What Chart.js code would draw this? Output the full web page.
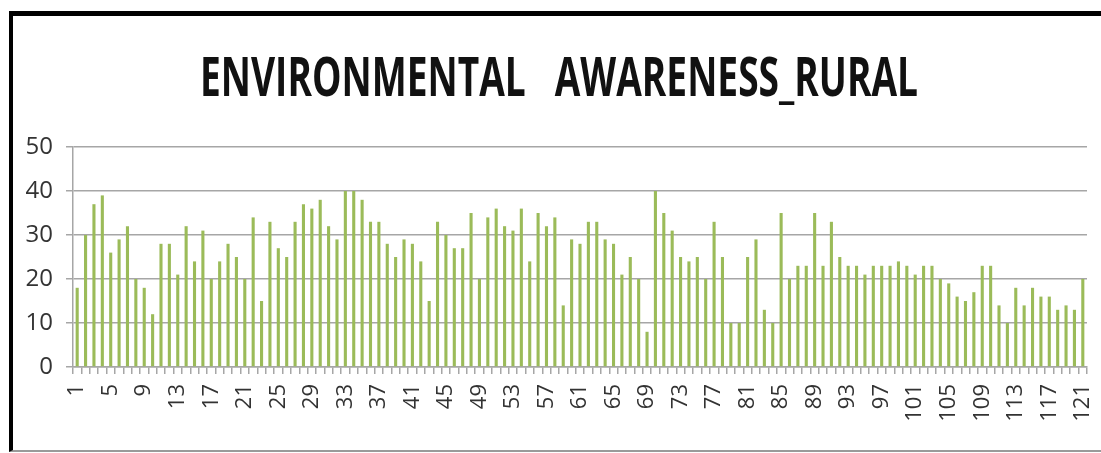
<!DOCTYPE html>
<html>
<head>
<meta charset="utf-8">
<script src="https://cdn.jsdelivr.net/npm/chart.js@4/dist/chart.umd.min.js"></script>
<style>
    body { margin: 0; background: #fff; overflow: hidden; }
    #wrap { position: relative; width: 1101px; height: 453px; }
    #frame {
        position: absolute; left: 9px; top: 11px; width: 1110px; height: 441px;
        box-sizing: border-box;
        border-top: 5px solid #000; border-left: 4px solid #000; border-bottom: 2px solid #9a9a9a;
        pointer-events: none;
    }
</style>
</head>
<body>
<div id="wrap">
    <canvas id="awarenessChart" width="1101" height="453"></canvas>
    <div id="frame"></div>
</div>
<script>
const chartTitle = 'ENVIRONMENTAL   AWARENESS_RURAL';

// respondents 1..121
const respondents = [];
for (let i = 1; i <= 121; i++) respondents.push(String(i));

const scores = [
    18, 30, 37, 39, 26, 29, 32, 20, 18, 12,
    28, 28, 21, 32, 24, 31, 20, 24, 28, 25,
    20, 34, 15, 33, 27, 25, 33, 37, 36, 38,
    32, 29, 40, 40, 38, 33, 33, 28, 25, 29,
    28, 24, 15, 33, 30, 27, 27, 35, 20, 34,
    36, 32, 31, 36, 24, 35, 32, 34, 14, 29,
    28, 33, 33, 29, 28, 21, 25, 20, 8, 40,
    35, 31, 25, 24, 25, 20, 33, 25, 10, 10,
    25, 29, 13, 10, 35, 20, 23, 23, 35, 23,
    33, 25, 23, 23, 21, 23, 23, 23, 24, 23,
    21, 23, 23, 20, 19, 16, 15, 17, 23, 23,
    14, 10, 18, 14, 18, 16, 16, 13, 14, 13,
    20
];

const yTicks = [0, 10, 20, 30, 40, 50];

const titlePlugin = {
    id: 'squeezedTitle',
    beforeDraw(chart) {
        const c = chart.ctx;
        c.save();
        c.fillStyle = '#fff';
        c.fillRect(0, 0, chart.width, chart.height);
        c.restore();
    },
    afterDraw(chart) {
        const c = chart.ctx;
        c.save();
        c.font = 'bold 53px "Open Sans"';
        const w = c.measureText(chartTitle).width;
        c.translate(559, 96);
        c.scale(718 / w, 1);
        c.fillStyle = '#111';
        c.textAlign = 'center';
        c.textBaseline = 'alphabetic';
        c.fillText(chartTitle, 0, 0);
        c.restore();
    }
};

const ctx = document.getElementById('awarenessChart').getContext('2d');

new Chart(ctx, {
    type: 'bar',
    data: {
        labels: respondents,
        datasets: [{
            data: scores,
            backgroundColor: '#9bbb59',
            barPercentage: 0.37,
            categoryPercentage: 1
        }]
    },
    options: {
        responsive: false,
        animation: false,
        devicePixelRatio: 1,
        layout: { padding: { top: 147, right: 14, left: 0, bottom: 0 } },
        plugins: {
            legend: { display: false },
            tooltip: { enabled: false }
        },
        scales: {
            x: {
                afterFit: function(scale) {
                    scale.height = 86;
                    scale.paddingLeft = 0;
                    scale.paddingRight = 0;
                },
                grid: {
                    drawOnChartArea: false,
                    drawTicks: true,
                    tickLength: 7,
                    color: '#a6a6a6',
                    lineWidth: 1.5
                },
                border: { display: true, color: '#a6a6a6', width: 1.5 },
                ticks: {
                    autoSkip: false,
                    minRotation: 90,
                    maxRotation: 90,
                    padding: 10,
                    color: '#333',
                    font: { family: '"Open Sans"', size: 22 },
                    callback: function(value, index) {
                        return index % 4 === 0 ? this.getLabelForValue(value) : '';
                    }
                }
            },
            y: {
                min: 0,
                max: 50,
                afterFit: function(scale) {
                    scale.width = 73;
                    scale.paddingTop = 0;
                    scale.paddingBottom = 0;
                },
                afterBuildTicks: function(scale) {
                    scale.ticks = yTicks.map(v => ({ value: v }));
                },
                grid: {
                    color: '#a6a6a6',
                    lineWidth: 1.5,
                    tickLength: 7
                },
                border: { display: true, color: '#a6a6a6', width: 1.5 },
                ticks: {
                    padding: 13,
                    color: '#333',
                    font: { family: '"Open Sans"', size: 24 }
                }
            }
        }
    },
    plugins: [titlePlugin]
});
</script>
</body>
</html>
